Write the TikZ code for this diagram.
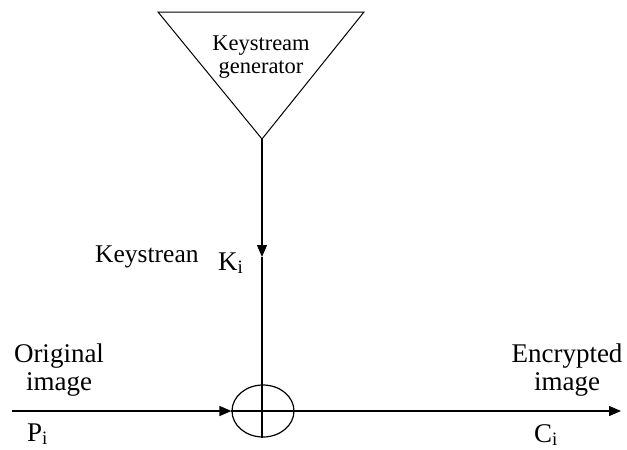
\documentclass[tikz,border=0pt]{standalone}
\usepackage{fontspec}
\setmainfont{Liberation Serif}
\usetikzlibrary{arrows.meta,shapes.geometric}
\begin{document}
\begin{tikzpicture}[x=1pt,y=-1pt,
  line/.style={line width=1.3pt},
  arr/.style={line width=1.3pt,-{Triangle[length=12pt,width=10pt]}},
  big/.style={font=\fontsize{27}{28}\selectfont,inner sep=0pt,align=center},
  mid/.style={font=\fontsize{22.5}{23}\selectfont,inner sep=0pt,align=center}]
\useasboundingbox (0,0) rectangle (627,450);
\fill[white] (0,0) rectangle (627,450);
% triangle
\draw[line width=1pt] (158,12) -- (364,12) -- (262,139) -- cycle;
\coordinate (apex) at (262,139);
\node[mid] (gen) at (261,57) {Keystream\\generator};
% XOR
\node[draw,line width=1.2pt,ellipse,minimum width=62pt,minimum height=52pt,inner sep=0pt] (xor) at (263,411) {};
\coordinate (ktip) at (262,257);
\coordinate (vbot) at (262,438);
\draw[arr] (apex) -- (ktip);
\draw[line] (ktip) -- (vbot);
\coordinate (hstart) at (12,411);
\coordinate (hend) at (621,411);
\draw[arr] (hstart) -- (xor.west);
\draw[arr] (xor.west) -- (hend);
% labels
\node[big] (orig) at (59,370) {Original\\image};
\node[big] (enc) at (567,370) {Encrypted\\image};
\node[big,anchor=base west] (pi) at (27,441) {P$_{\mathrm{i}}$};
\node[big,anchor=base west] (ci) at (534,442) {C$_{\mathrm{i}}$};
\node[font=\fontsize{25.5}{26}\selectfont,inner sep=0pt,anchor=base west] (ks) at (95,262) {Keystrean};
\node[big,anchor=base west] (ki) at (218,270) {K$_{\mathrm{i}}$};
\end{tikzpicture}
\end{document}
